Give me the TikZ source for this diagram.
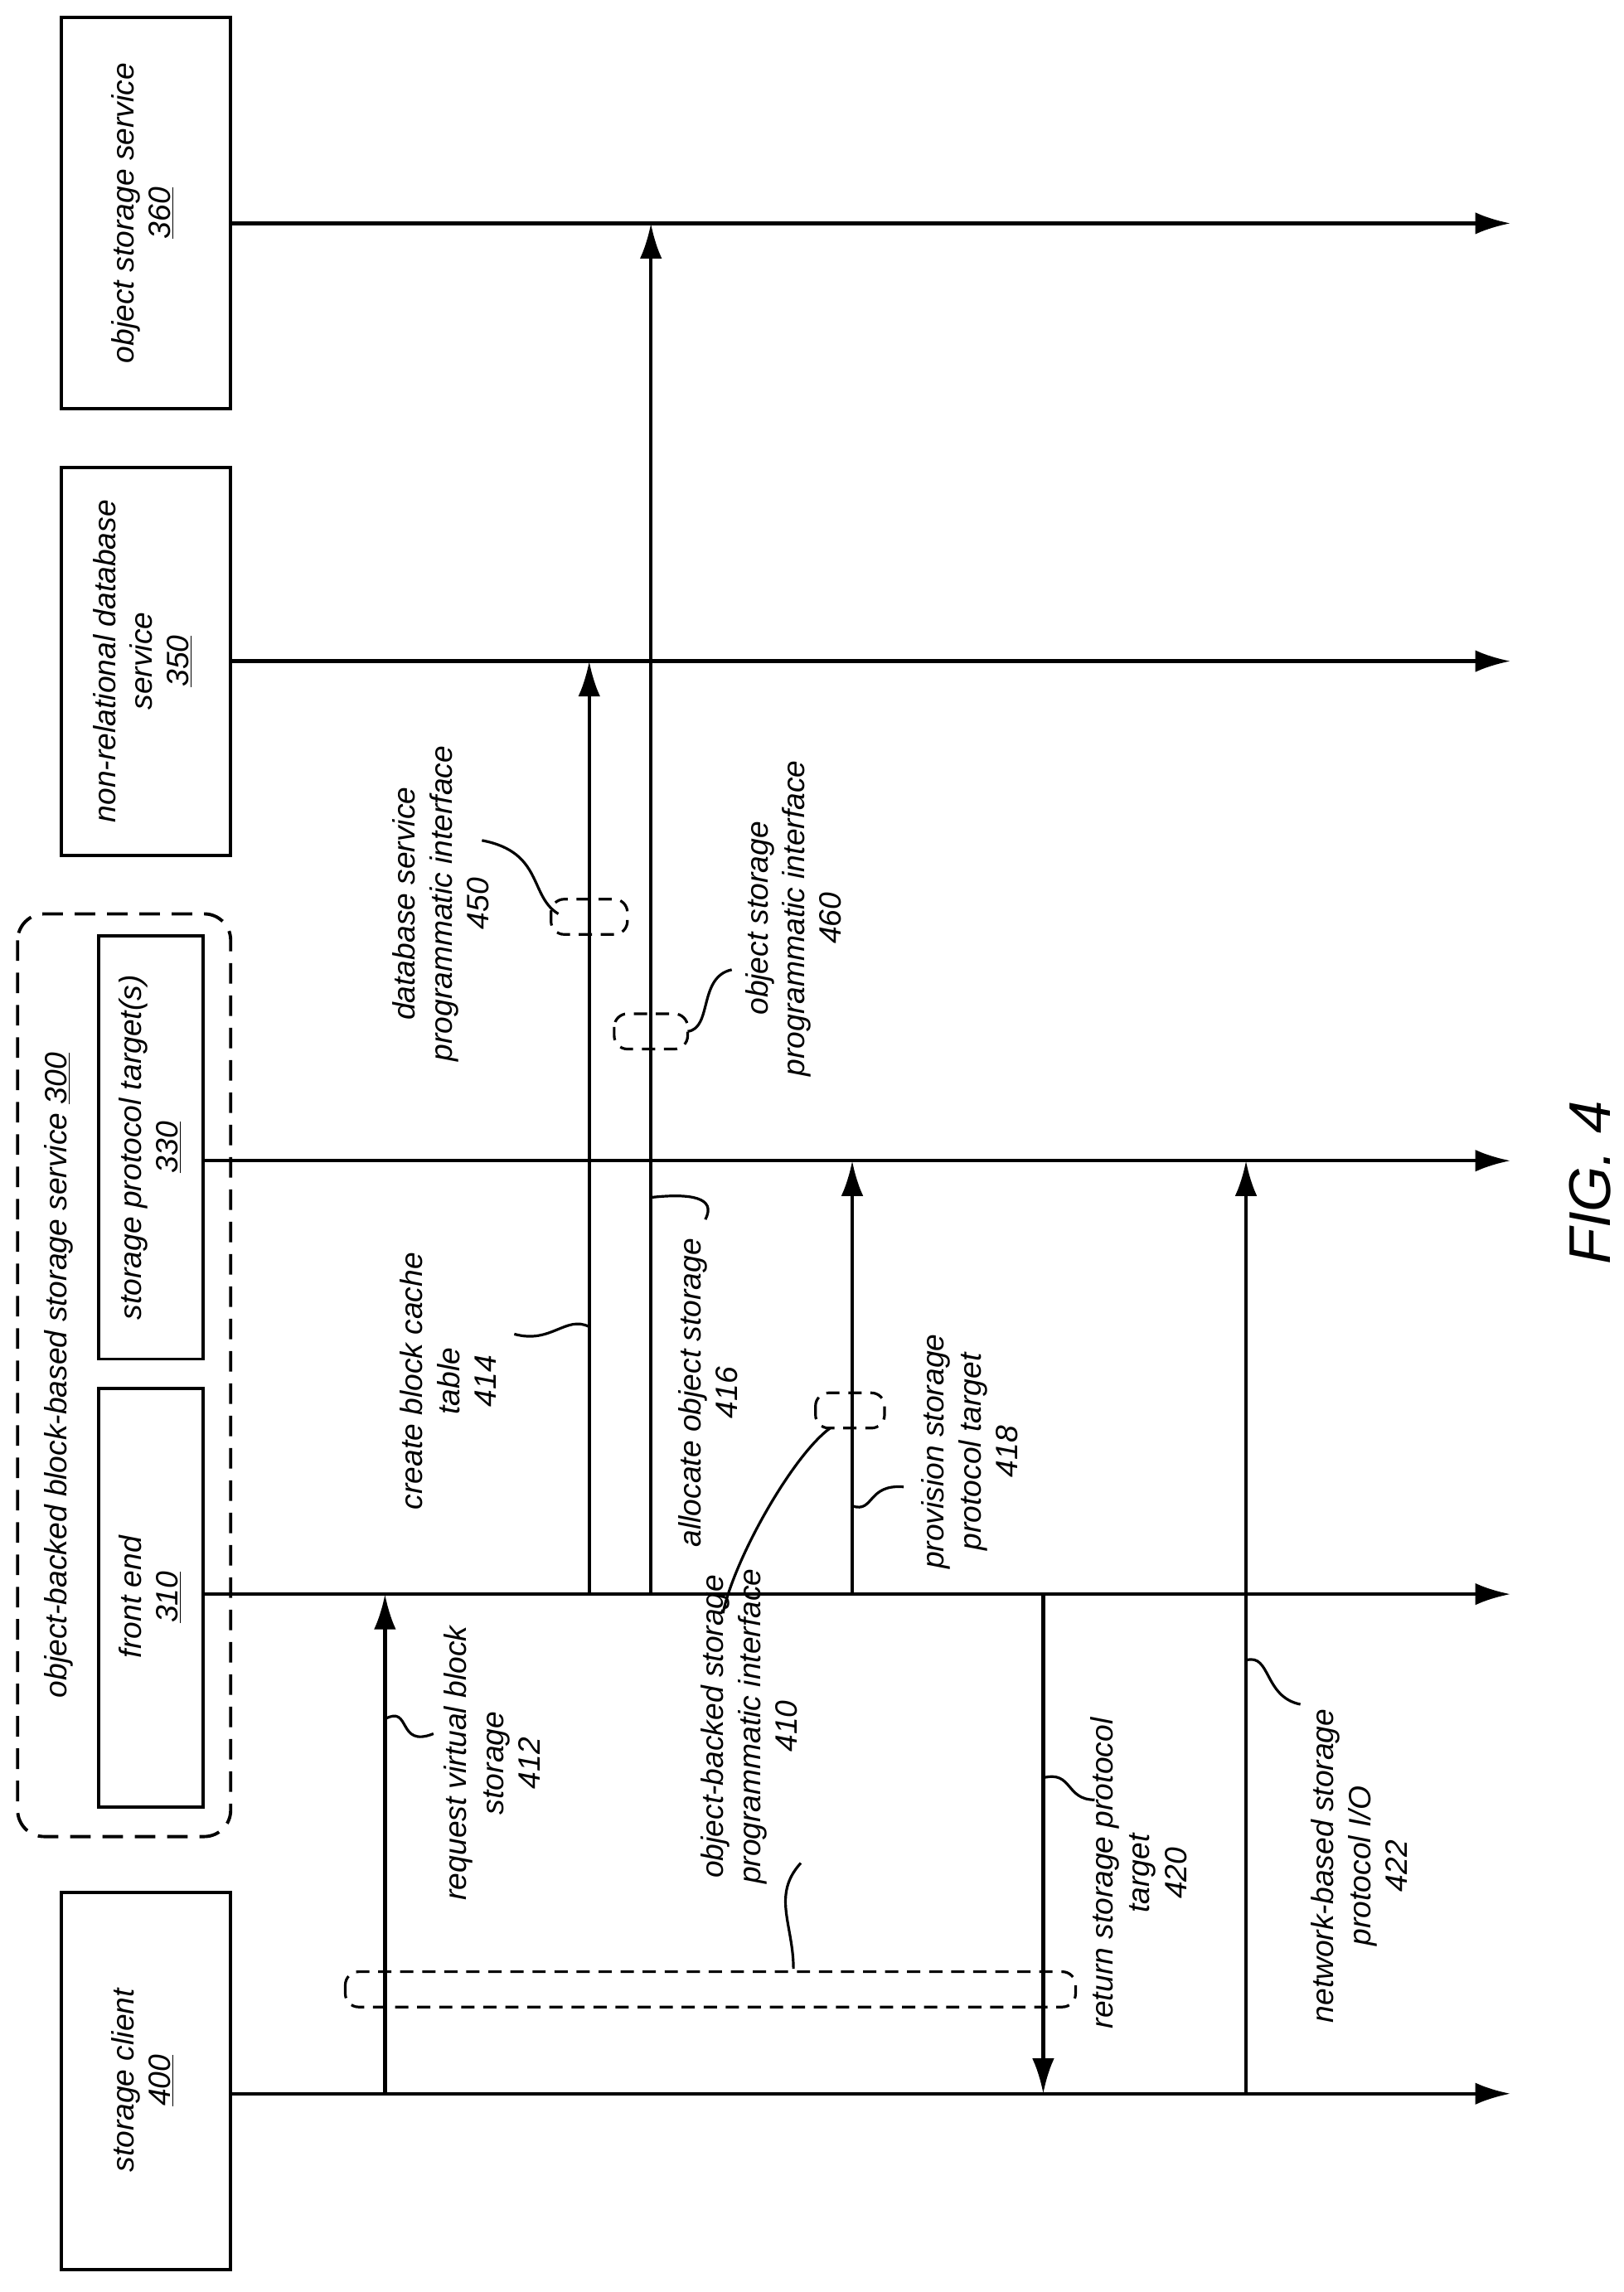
\documentclass[tikz,border=0pt]{standalone}
\usepackage{fontspec}
\setmainfont{Liberation Sans}
\begin{document}
\begin{tikzpicture}[x=1pt,y=-1pt,
  box/.style={draw,line width=2.2pt},
  life/.style={line width=2.4pt,-{Latex[length=24pt,width=15pt]}},
  msg/.style={line width=2.4pt,-{Latex[length=24pt,width=15pt]}},
  lbl/.style={rotate=90,align=center,font=\fontsize{21}{25}\selectfont\itshape},
  lead/.style={line width=1.8pt},
  dbox/.style={draw,line width=1.8pt,dash pattern=on 9pt off 6pt,rounded corners=9pt}]
\usetikzlibrary{arrows.meta}
\useasboundingbox (0,0) rectangle (1105,1560);
% boxes
\draw[box] (42,12) rectangle (157,278);
\node[lbl] (t360) at (97,145) {object storage service\\\underline{360}};
\draw[box] (42,318) rectangle (157,582);
\node[lbl] (t350) at (97,450) {non-relational database\\service\\\underline{350}};
\draw[line width=2.2pt,dash pattern=on 14pt off 8pt,rounded corners=18pt] (12,622) rectangle (157,1250);
\node[lbl] (t300) at (40,936) {object-backed block-based storage service \underline{300}};
\draw[box] (67,637) rectangle (138,925);
\node[lbl] (t330) at (102,781) {storage protocol target(s)\\\underline{330}};
\draw[box] (67,945) rectangle (138,1230);
\node[lbl] (t310) at (102,1087) {front end\\\underline{310}};
\draw[box] (42,1288) rectangle (157,1545);
\node[lbl] (t400) at (97,1416) {storage client\\\underline{400}};
% lifelines
\coordinate (a1) at (157,152); \coordinate (b1) at (1028,152);
\coordinate (a2) at (157,450); \coordinate (b2) at (1028,450);
\coordinate (a3) at (138,790); \coordinate (b3) at (1028,790);
\coordinate (a4) at (138,1085); \coordinate (b4) at (1028,1085);
\coordinate (a5) at (157,1425); \coordinate (b5) at (1028,1425);
\foreach \i in {1,...,5}{\draw[life] (a\i) -- (b\i);}
% messages
\coordinate (m1s) at (262,1425); \coordinate (m1e) at (262,1085);
\coordinate (m2s) at (401,1085); \coordinate (m2e) at (401,450);
\coordinate (m3s) at (443,1085); \coordinate (m3e) at (443,152);
\coordinate (m4s) at (580,1085); \coordinate (m4e) at (580,790);
\coordinate (m5s) at (710,1085); \coordinate (m5e) at (710,1425);
\coordinate (m6s) at (848,1425); \coordinate (m6e) at (848,790);
\foreach \i in {1,...,6}{\draw[msg] (m\i s) -- (m\i e);}
% labels
\node[lbl] (l412) at (335,1200) {request virtual block\\storage\\412};
\draw[lead] (262,1170) .. controls (280,1160) and (270,1190) .. (295,1180);
\node[lbl] (l414) at (305,940) {create block cache\\table\\414};
\draw[lead] (401,903) .. controls (385,895) and (375,915) .. (350,908);
\node[lbl] (l416) at (482,948) {allocate object storage\\416};
\draw[lead] (443,815) .. controls (470,812) and (488,815) .. (480,830);
\node[lbl] (l418) at (660,988) {provision storage\\protocol target\\418};
\draw[lead] (580,1025) .. controls (595,1030) and (590,1010) .. (615,1012);
\node[lbl] (l420) at (775,1275) {return storage protocol\\target\\420};
\draw[lead] (710,1210) .. controls (730,1205) and (725,1225) .. (745,1225);
\node[lbl] (l422) at (925,1270) {network-based storage\\protocol I/O\\422};
\draw[lead] (848,1130) .. controls (865,1125) and (860,1155) .. (885,1160);
\node[lbl] (l410) at (510,1175) {object-backed storage\\programmatic interface\\410};
\node[lbl] (l450) at (300,615) {database service\\programmatic interface\\450};
\node[lbl] (l460) at (540,625) {object storage\\programmatic interface\\460};
% dashed interface boxes
\draw[dbox] (235,1342) rectangle (732,1366);
\draw[dbox] (555,948) rectangle (602,972);
\draw[dbox] (375,612) rectangle (427,636);
\draw[dbox] (418,690) rectangle (468,714);
\draw[lead] (540,1340) .. controls (540,1310) and (525,1290) .. (545,1268);
\draw[lead] (565,972) .. controls (540,990) and (500,1060) .. (492,1098);
\draw[lead] (380,622) .. controls (360,610) and (370,580) .. (328,572);
\draw[lead] (468,702) .. controls (485,700) and (475,665) .. (498,660);
\node[rotate=90,font=\fontsize{40}{48}\selectfont\itshape] (fig) at (1082,805) {FIG. 4};
\end{tikzpicture}
\end{document}
